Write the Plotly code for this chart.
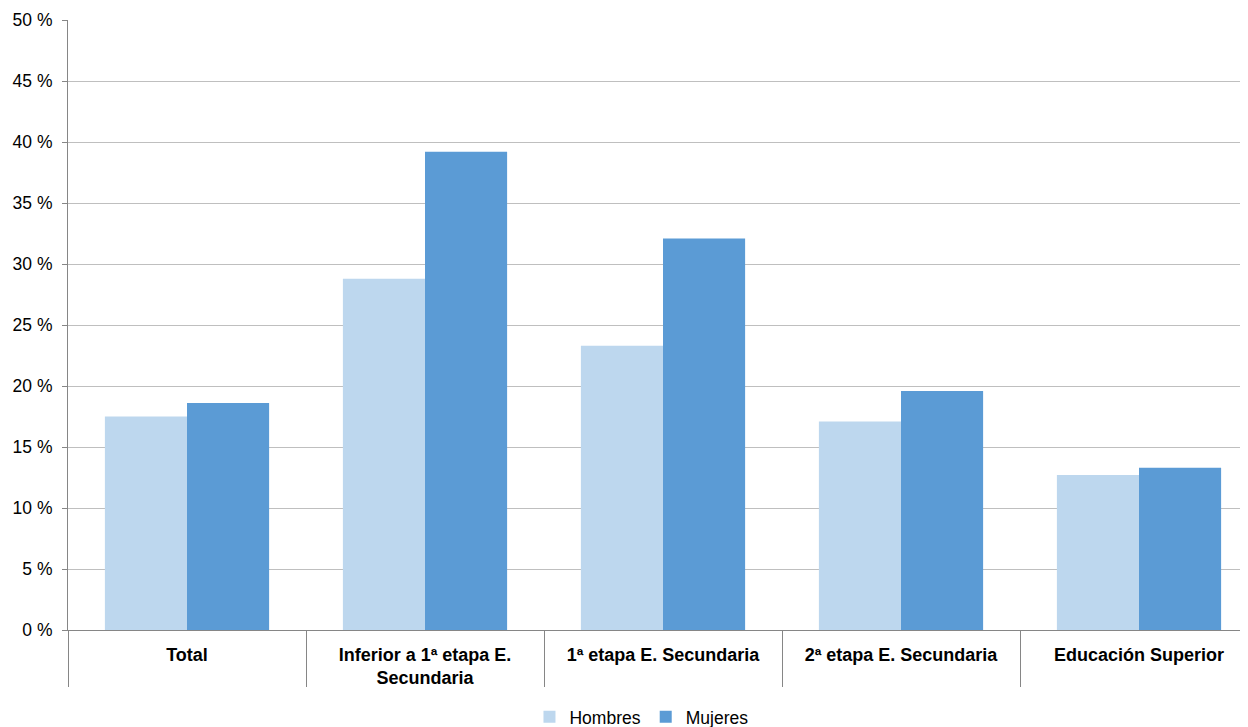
import plotly.graph_objects as go

categories = ["<b>Total</b>", "<b>Inferior a 1ª etapa E.<br>Secundaria</b>", "<b>1ª etapa E. Secundaria</b>",
              "<b>2ª etapa E. Secundaria</b>", "<b>Educación Superior</b>"]
hombres = [17.5, 28.8, 23.3, 17.1, 12.7]
mujeres = [18.6, 39.2, 32.1, 19.6, 13.3]
series_names = ["Hombres", "Mujeres"]
colors = ["#BDD7EE", "#5B9BD5"]

fig = go.Figure()
for name, vals, col in zip(series_names, [hombres, mujeres], colors):
    fig.add_trace(go.Bar(x=categories, y=vals, name=name, marker=dict(color=col, line=dict(width=0))))

fig.update_layout(
    width=1240, height=719,
    margin=dict(l=60, r=0, t=12, b=97),
    plot_bgcolor="white", paper_bgcolor="white",
    barmode="group", bargap=0.31, bargroupgap=0,
    font=dict(family="Liberation Sans, Arial", size=17.5, color="#000000"),
    showlegend=True,
    legend=dict(orientation="h", x=0.486, xanchor="center", yref="container", y=0.014, yanchor="middle",
                font=dict(size=17.5), itemwidth=30, tracegroupgap=0, borderwidth=0),
    xaxis=dict(range=[-0.5, 4.458], tickson="boundaries", ticks="outside", ticklen=56,
               tickcolor="#868686", tickwidth=1, showline=True, linecolor="#868686",
               showgrid=False, ticklabelstandoff=8, tickfont=dict(size=18)),
    yaxis=dict(range=[0, 50], dtick=5, ticksuffix=" %", ticks="outside", ticklen=5,
               tickcolor="#868686", showline=True, linecolor="#868686",
               gridcolor="#BFBFBF", gridwidth=1, zeroline=False, ticklabelstandoff=6,
               tickfont=dict(size=17.5)),
)
fig.write_html("out.html")
